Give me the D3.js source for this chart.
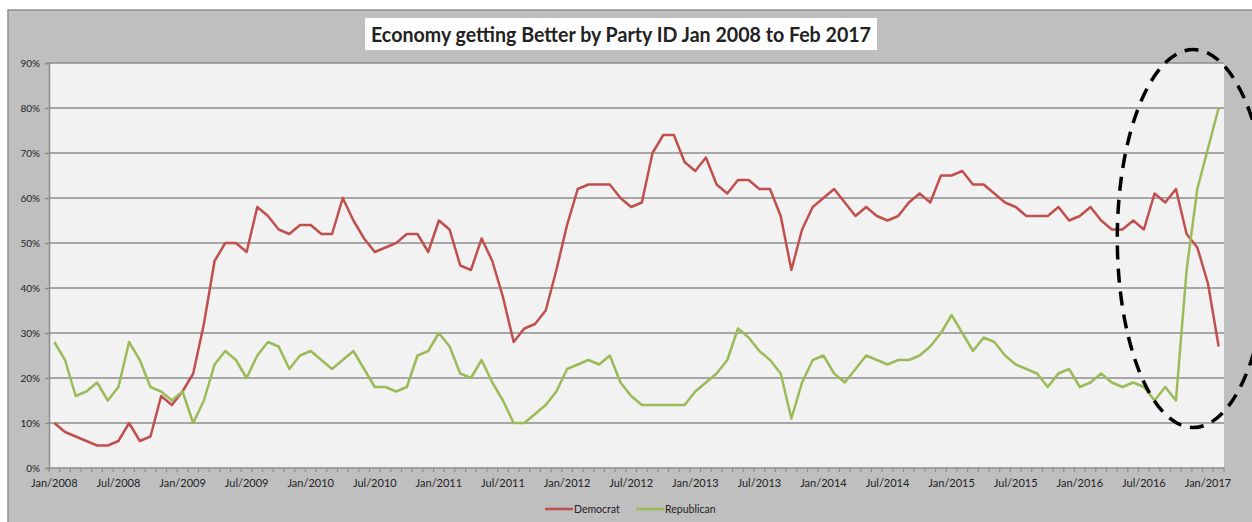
<!DOCTYPE html>
<html>
<head>
<meta charset="utf-8">
<script src="https://cdn.jsdelivr.net/npm/d3@7/dist/d3.min.js"></script>
<style>
  body { margin: 0; background: #fff; }
  text { font-family: Lato, "Liberation Sans", sans-serif; fill: #222; }
</style>
</head>
<body>
<div id="container"></div>
<script>
// monthly share saying the economy is getting better, Jan 2008 .. Feb 2017
var democrat = [
  10, 8, 7, 6, 5, 5, 6, 10, 6, 7,
  16, 14, 17, 21, 32, 46, 50, 50, 48, 58,
  56, 53, 52, 54, 54, 52, 52, 60, 55, 51,
  48, 49, 50, 52, 52, 48, 55, 53, 45, 44,
  51, 46, 38, 28, 31, 32, 35, 44, 54, 62,
  63, 63, 63, 60, 58, 59, 70, 74, 74, 68,
  66, 69, 63, 61, 64, 64, 62, 62, 56, 44,
  53, 58, 60, 62, 59, 56, 58, 56, 55, 56,
  59, 61, 59, 65, 65, 66, 63, 63, 61, 59,
  58, 56, 56, 56, 58, 55, 56, 58, 55, 53,
  53, 55, 53, 61, 59, 62, 52, 49, 41, 27
];
var republican = [
  28, 24, 16, 17, 19, 15, 18, 28, 24, 18,
  17, 15, 17, 10, 15, 23, 26, 24, 20, 25,
  28, 27, 22, 25, 26, 24, 22, 24, 26, 22,
  18, 18, 17, 18, 25, 26, 30, 27, 21, 20,
  24, 19, 15, 10, 10, 12, 14, 17, 22, 23,
  24, 23, 25, 19, 16, 14, 14, 14, 14, 14,
  17, 19, 21, 24, 31, 29, 26, 24, 21, 11,
  19, 24, 25, 21, 19, 22, 25, 24, 23, 24,
  24, 25, 27, 30, 34, 30, 26, 29, 28, 25,
  23, 22, 21, 18, 21, 22, 18, 19, 21, 19,
  18, 19, 18, 15, 18, 15, 44, 62, 71, 80
];
var months = d3.timeMonth.range(new Date(2008, 0, 1), new Date(2017, 2, 1));
var tickLabels = ['Jan/2008', 'Jul/2008', 'Jan/2009', 'Jul/2009', 'Jan/2010', 'Jul/2010',
  'Jan/2011', 'Jul/2011', 'Jan/2012', 'Jul/2012', 'Jan/2013', 'Jul/2013',
  'Jan/2014', 'Jul/2014', 'Jan/2015', 'Jul/2015', 'Jan/2016', 'Jul/2016', 'Jan/2017'];
var yTicks = [0, 10, 20, 30, 40, 50, 60, 70, 80, 90];
var seriesNames = ['Democrat', 'Republican'];
var seriesColors = ['#c0504d', '#9bbb59'];

var width = 1252,
    height = 522,
    plot = { left: 49, right: 1224, top: 63, bottom: 468 };

var svg = d3.select('#container')
    .append('svg')
    .attr('width', width)
    .attr('height', height);

// chart area
svg.append('rect')
    .attr('x', 8).attr('y', 10)
    .attr('width', width).attr('height', height)
    .attr('fill', '#bfbfbf')
    .attr('stroke', '#8f8f8f')
    .attr('stroke-width', 1.5);
svg.append('rect')
    .attr('x', plot.left).attr('y', plot.top)
    .attr('width', plot.right - plot.left).attr('height', plot.bottom - plot.top)
    .attr('fill', '#f2f2f2');

var x = d3.scaleBand()
    .domain(d3.range(months.length))
    .range([plot.left, plot.right]);
var y = d3.scaleLinear()
    .domain([0, 90])
    .range([plot.bottom, plot.top]);

// gridlines
svg.append('g')
    .selectAll('line')
    .data(yTicks.slice(1))
    .enter()
    .append('line')
    .attr('x1', plot.left).attr('x2', plot.right)
    .attr('y1', function(d) { return y(d); })
    .attr('y2', function(d) { return y(d); })
    .attr('stroke', '#8c8c8c')
    .attr('stroke-width', 1.5);

// y axis
var yAxis = svg.append('g')
    .attr('transform', 'translate(' + plot.left + ',0)')
    .call(d3.axisLeft(y).tickValues(yTicks).tickSize(4).tickPadding(5)
        .tickFormat(function(d) { return d + '%'; }));
yAxis.select('.domain').attr('stroke', '#8c8c8c').attr('stroke-width', 1.5);
yAxis.selectAll('.tick line').attr('stroke', '#8c8c8c').attr('stroke-width', 1.5);
yAxis.selectAll('text').style('font-size', '10px').attr('fill', '#222');

// x axis: month ticks between categories, labels every 6 months
var xg = svg.append('g');
xg.append('line')
    .attr('x1', plot.left).attr('x2', plot.right)
    .attr('y1', plot.bottom).attr('y2', plot.bottom)
    .attr('stroke', '#8c8c8c').attr('stroke-width', 1.5);
xg.selectAll('line.tick')
    .data(d3.range(months.length + 1))
    .enter()
    .append('line')
    .attr('class', 'tick')
    .attr('x1', function(i) { return plot.left + i * x.step(); })
    .attr('x2', function(i) { return plot.left + i * x.step(); })
    .attr('y1', plot.bottom).attr('y2', plot.bottom + 4)
    .attr('stroke', '#8c8c8c').attr('stroke-width', 1.2);
xg.selectAll('text')
    .data(tickLabels)
    .enter()
    .append('text')
    .attr('x', function(d, i) { return x(i * 6) + x.bandwidth() / 2; })
    .attr('y', plot.bottom + 19)
    .attr('text-anchor', 'middle')
    .style('font-size', '11px')
    .text(function(d) { return d; });

// lines
var line = d3.line()
    .x(function(d, i) { return x(i) + x.bandwidth() / 2; })
    .y(function(d) { return y(d); });
svg.selectAll('path.series')
    .data([democrat, republican])
    .enter()
    .append('path')
    .attr('class', 'series')
    .attr('d', line)
    .attr('fill', 'none')
    .attr('stroke', function(d, i) { return seriesColors[i]; })
    .attr('stroke-width', 2.5)
    .attr('stroke-linejoin', 'round');

// dashed ellipse around the last months
svg.append('ellipse')
    .attr('cx', x(107) + x.bandwidth() / 2 - 4)
    .attr('cy', y(51))
    .attr('rx', 76)
    .attr('ry', 189)
    .attr('fill', 'none')
    .attr('stroke', '#000')
    .attr('stroke-width', 3.5)
    .attr('stroke-dasharray', '14,9');

// title
svg.append('rect')
    .attr('x', 365).attr('y', 18)
    .attr('width', 512).attr('height', 32)
    .attr('fill', '#fff');
svg.append('text')
    .attr('x', 621)
    .attr('y', 42)
    .attr('text-anchor', 'middle')
    .attr('textLength', 500)
    .attr('lengthAdjust', 'spacingAndGlyphs')
    .style('font-size', '21px')
    .style('font-weight', 'bold')
    .attr('fill', '#111')
    .text('Economy getting Better by Party ID Jan 2008 to Feb 2017');

// legend
var legend = svg.append('g')
    .selectAll('g')
    .data(seriesNames)
    .enter()
    .append('g')
    .attr('transform', function(d, i) { return 'translate(' + (545 + i * 91) + ',509)'; });
legend.append('line')
    .attr('x1', 0).attr('x2', 28)
    .attr('stroke', function(d, i) { return seriesColors[i]; })
    .attr('stroke-width', 2.5);
legend.append('text')
    .attr('x', 29)
    .attr('dy', '0.35em')
    .style('font-size', '10.5px')
    .text(function(d) { return d; });
</script>
</body>
</html>
